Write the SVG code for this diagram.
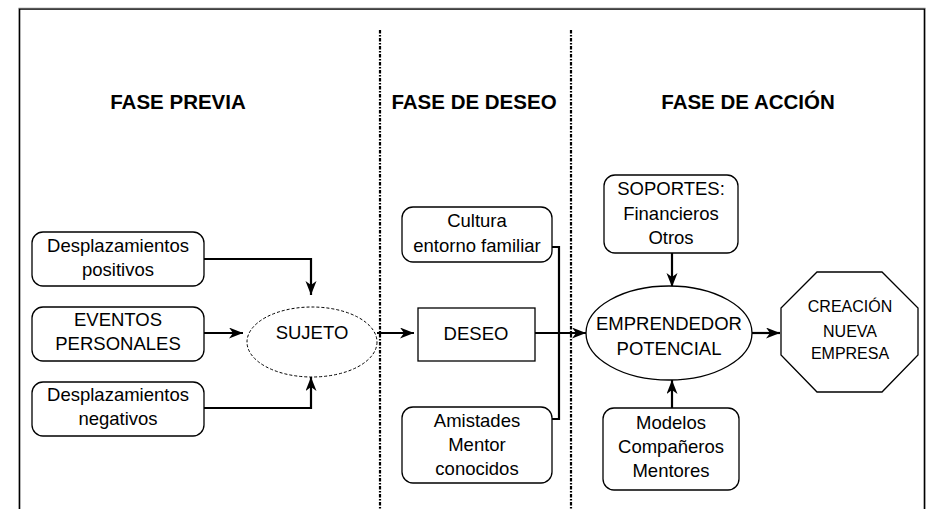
<svg xmlns="http://www.w3.org/2000/svg" width="929" height="509" viewBox="0 0 929 509">
<style>
.box{fill:#fff;stroke:#000;stroke-width:1.3}
.t{font-family:"Liberation Sans",Arial,sans-serif;font-size:18.5px;text-anchor:middle;fill:#000}
.s{font-size:16px}
.h{font-family:"Liberation Sans",Arial,sans-serif;font-size:20.5px;font-weight:bold;text-anchor:middle;fill:#000}
.c{fill:none;stroke:#000;stroke-width:2.2;marker-end:url(#ah)}
.sep{fill:none;stroke:#000;stroke-width:2.2;stroke-dasharray:3.5 1.5 1.5 1.5}
</style>
<defs>
<marker id="ah" markerUnits="userSpaceOnUse" markerWidth="16" markerHeight="12" refX="14" refY="5.5" orient="auto">
<path d="M0,0 L14,5.5 L0,11 L4,5.5 z" fill="#000"/>
</marker>
</defs>
<rect width="929" height="509" fill="#fff"/>
<path d="M19.5,509 V9 H924.5 V509" fill="none" stroke="#000" stroke-width="1.6"/>
<path d="M18.5,509 V8 H925.5 V509" fill="none" stroke="#999" stroke-width="0.6"/>
<g id="separators">
<line class="sep" x1="380" y1="30" x2="380" y2="509"/>
<line class="sep" x1="571" y1="30" x2="571" y2="509"/>
</g>
<g id="titles">
<text class="h" x="178" y="109">FASE PREVIA</text>
<text class="h" x="474" y="109">FASE DE DESEO</text>
<text class="h" x="748" y="109">FASE DE ACCIÓN</text>
</g>
<g id="connectors">
<polyline class="c" points="204,259 311,259 311,295"/>
<line class="c" x1="204" y1="333" x2="243" y2="333"/>
<polyline class="c" points="204,408 311,408 311,377"/>
<line class="c" x1="377" y1="333" x2="414" y2="333"/>
<polyline points="551,247 559,247 559,419 551,419" fill="none" stroke="#000" stroke-width="2.2"/>
<line class="c" x1="535" y1="333" x2="586" y2="333"/>
<line class="c" x1="672" y1="253" x2="672" y2="287"/>
<line class="c" x1="672" y1="408" x2="672" y2="380"/>
<line class="c" x1="752" y1="333" x2="780" y2="333"/>
</g>
<g id="desp-pos">
<rect class="box" x="32" y="232" width="172" height="54" rx="11"/>
<text class="t" x="118" y="252">Desplazamientos</text>
<text class="t" x="118" y="276">positivos</text>
</g>
<g id="eventos">
<rect class="box" x="32" y="307" width="172" height="54" rx="11"/>
<text class="t" x="118" y="326">EVENTOS</text>
<text class="t" x="118" y="350">PERSONALES</text>
</g>
<g id="desp-neg">
<rect class="box" x="32" y="382" width="172" height="54" rx="11"/>
<text class="t" x="118" y="401">Desplazamientos</text>
<text class="t" x="118" y="425">negativos</text>
</g>
<g id="sujeto">
<ellipse cx="312" cy="342" rx="65" ry="35" fill="#fff" stroke="#000" stroke-width="1" stroke-dasharray="3 2"/>
<text class="t" x="312" y="339">SUJETO</text>
</g>
<g id="cultura">
<rect class="box" x="402" y="207" width="150" height="55" rx="11"/>
<text class="t" x="477" y="227">Cultura</text>
<text class="t" x="477" y="252">entorno familiar</text>
</g>
<g id="deseo">
<rect class="box" x="418" y="308" width="117" height="53"/>
<text class="t" x="476" y="340">DESEO</text>
</g>
<g id="amistades">
<rect class="box" x="402" y="407" width="150" height="76" rx="11"/>
<text class="t" x="477" y="427">Amistades</text>
<text class="t" x="477" y="451">Mentor</text>
<text class="t" x="477" y="475">conocidos</text>
</g>
<g id="soportes">
<rect class="box" x="604" y="175" width="134" height="78" rx="11"/>
<text class="t" x="671" y="195">SOPORTES:</text>
<text class="t" x="671" y="220">Financieros</text>
<text class="t" x="671" y="244">Otros</text>
</g>
<g id="emprendedor">
<ellipse cx="669" cy="333" rx="83" ry="47" fill="#fff" stroke="#000" stroke-width="1.3"/>
<text class="t" x="669" y="330">EMPRENDEDOR</text>
<text class="t" x="669" y="355">POTENCIAL</text>
</g>
<g id="modelos">
<rect class="box" x="603" y="408" width="136" height="82" rx="11"/>
<text class="t" x="671" y="429">Modelos</text>
<text class="t" x="671" y="453">Compañeros</text>
<text class="t" x="671" y="477">Mentores</text>
</g>
<g id="creacion">
<polygon class="box" points="817,272 882,272 918,308 918,355 882,392 817,392 781,355 781,308"/>
<text class="t s" x="850" y="312">CREACIÓN</text>
<text class="t s" x="850" y="337">NUEVA</text>
<text class="t s" x="850" y="359">EMPRESA</text>
</g>
</svg>
